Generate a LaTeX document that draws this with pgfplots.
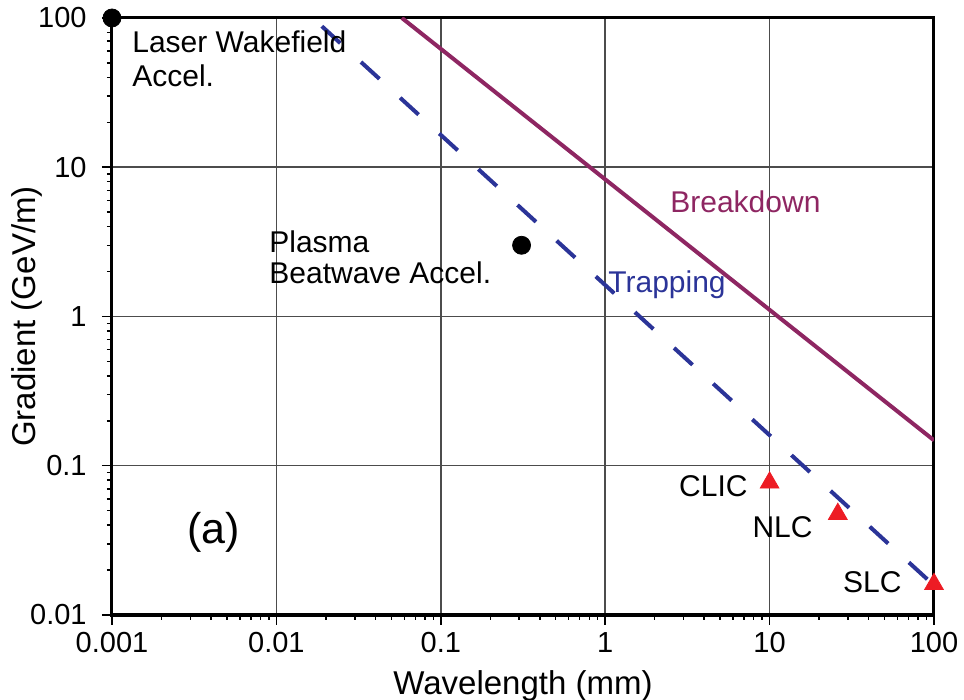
\documentclass[border=0pt]{standalone}
\usepackage{fontspec}
\setmainfont{Liberation Sans}
\usepackage{pgfplots}
\pgfplotsset{compat=1.18}
\definecolor{brk}{RGB}{142,38,98}
\definecolor{trp}{RGB}{43,52,152}
\definecolor{tri}{RGB}{237,28,36}
\newcommand{\lbl}{\fontsize{15}{18}\selectfont}
\begin{document}
\begin{tikzpicture}
\begin{axis}[
    at={(0,0)}, anchor=south west,
    scale only axis, width=411pt, height=298.5pt,
    xmode=log, ymode=log,
    xmin=0.001, xmax=100, ymin=0.01, ymax=100,
    xtick={0.001,0.01,0.1,1,10,100},
    xticklabels={0.001,0.01,0.1,1,10,100},
    ytick={0.01,0.1,1,10,100},
    yticklabels={0.01,0.1,1,10,100},
    tick align=outside, tick pos=left,
    major tick length=5pt, minor tick length=2.5pt,
    xtick style={black, line width=0.75pt},
    ytick style={black, line width=0.75pt},
    axis line style={line width=1.5pt, black},
    grid=major,
    major grid style={line width=0.75pt, black!70},
    tick label style={font=\fontsize{14.5}{16}\selectfont},
    xticklabel style={anchor=base, yshift=-14pt},
    yticklabel style={anchor=east, inner sep=0pt, xshift=-7.5pt},
    xlabel={Wavelength (mm)},
    ylabel={Gradient (GeV/m)},
    every axis x label/.style={at={(rel axis cs:0.5,0)}, anchor=base, yshift=-39.5pt,
        font=\fontsize{16.5}{18}\selectfont},
    every axis y label/.style={at={(rel axis cs:0,0.5)}, xshift=-42.5pt, rotate=90,
        anchor=center, font=\fontsize{16.5}{18}\selectfont},
]
% breakdown limit
\addplot[brk, line width=2pt] coordinates {(0.058,100) (100,0.148)};
% trapping limit
\addplot[trp, line width=2pt, dash pattern=on 12.5pt off 14pt] coordinates {(0.0189,88) (100,0.0158)};

\node[anchor=base west, inner sep=0, font=\lbl] at (rel axis cs:0.0243,0.9414) {Laser Wakefield};
\node[anchor=base west, inner sep=0, font=\lbl] at (rel axis cs:0.0243,0.8844) {Accel.};
\node[anchor=base west, inner sep=0, font=\lbl] at (rel axis cs:0.191,0.608) {Plasma};
\node[anchor=base west, inner sep=0, font=\lbl] at (rel axis cs:0.191,0.556) {Beatwave Accel.};
\node[anchor=base west, inner sep=0, font=\lbl, text=brk] at (rel axis cs:0.6788,0.675) {Breakdown};
\node[anchor=base west, inner sep=0, font=\lbl, text=trp] at (rel axis cs:0.6034,0.541) {Trapping};
\node[anchor=base east, inner sep=0, font=\lbl] at (rel axis cs:0.7737,0.1977) {CLIC};
\node[anchor=base east, inner sep=0, font=\lbl] at (rel axis cs:0.8528,0.129) {NLC};
\node[anchor=base east, inner sep=0, font=\lbl] at (rel axis cs:0.961,0.0369) {SLC};
\node[anchor=base, inner sep=0, font=\fontsize{21.5}{24}\selectfont] at (rel axis cs:0.124,0.119) {(a)};
\end{axis}
% markers on a second, hidden axis so the ones on the frame are not clipped
\begin{axis}[
    at={(0,0)}, anchor=south west,
    scale only axis, width=411pt, height=298.5pt,
    xmode=log, ymode=log,
    xmin=0.001, xmax=100, ymin=0.01, ymax=100,
    hide axis, clip=false,
]
% plasma accelerators
\addplot[only marks, mark=*, mark size=4.5pt, black] coordinates {(0.001,100) (0.31,3)};
% linear colliders
\addplot[only marks, mark=triangle*, mark size=5.4pt, tri] coordinates {(10,0.077) (26,0.0475) (100,0.0161)};
\end{axis}
\pgfresetboundingbox
\path (-56pt,-42.5pt) rectangle (426pt,307.5pt);
\end{tikzpicture}
\end{document}
